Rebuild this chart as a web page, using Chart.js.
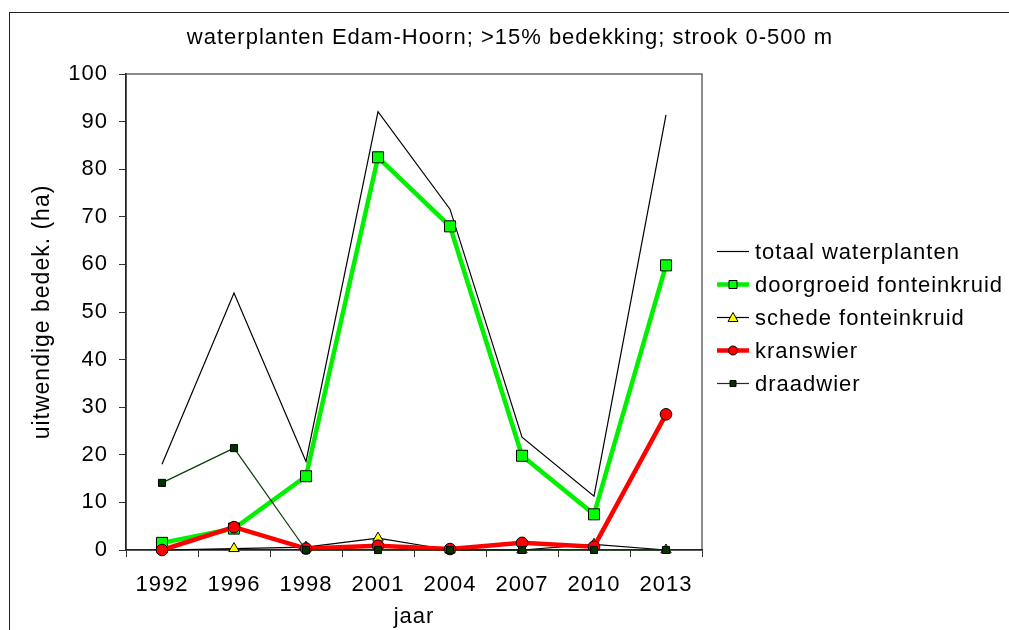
<!DOCTYPE html>
<html>
<head>
<meta charset="utf-8">
<script src="https://cdn.jsdelivr.net/npm/chart.js@4.4.1/dist/chart.umd.min.js"></script>
<style>
  html, body { margin: 0; padding: 0; background: #fff; overflow: hidden; }
  #wrap { width: 1009px; height: 630px; position: relative; }
</style>
</head>
<body>
<div id="wrap"><canvas id="chart" width="1009" height="630"></canvas></div>
<script>
// data
const years = ["1992", "1996", "1998", "2001", "2004", "2007", "2010", "2013"];
const totaal = [18, 54, 18.6, 92.1, 71.6, 23.7, 11.3, 91.4];
const doorgroeid = [1.5, 4.5, 15.5, 82.5, 68, 19.8, 7.5, 59.8];
const schede = [0, 0.3, 0.6, 2.5, 0, 0, 1.2, 0];
const kranswier = [0, 4.8, 0.3, 0.9, 0.2, 1.5, 0.7, 28.5];
const draadwier = [14.1, 21.4, 0, 0, 0, 0, 0, 0];

const chartTitle = "waterplanten Edam-Hoorn; >15% bedekking; strook 0-500 m";
const yTitle = "uitwendige bedek. (ha)";
const xTitle = "jaar";
const yMin = 0, yMax = 100, yStep = 10;

const FONT = "'Liberation Sans', Arial, sans-serif";
const FS = 22;

// marker drawing used for the legend samples
function drawMarker(ctx, style, x, y, r, fill, stroke) {
  ctx.save();
  ctx.fillStyle = fill;
  ctx.strokeStyle = stroke;
  ctx.lineWidth = 1;
  ctx.beginPath();
  if (style === "rect") {
    ctx.rect(x - r, y - r, 2 * r, 2 * r);
  } else if (style === "circle") {
    ctx.arc(x, y, r, 0, Math.PI * 2);
  } else if (style === "triangle") {
    ctx.moveTo(x, y - r);
    ctx.lineTo(x + r, y + r * 0.8);
    ctx.lineTo(x - r, y + r * 0.8);
    ctx.closePath();
  }
  ctx.fill();
  ctx.stroke();
  ctx.restore();
}

const decorPlugin = {
  id: "decor",
  beforeDraw(chart) {
    const ctx = chart.ctx;
    const a = chart.chartArea;
    // the reference text runs a little wide, so space letters out a bit
    ctx.letterSpacing = "1px";
    ctx.save();
    ctx.fillStyle = "#fff";
    ctx.fillRect(0, 0, chart.width, chart.height);
    // outer frame (runs off the right and bottom edge)
    ctx.strokeStyle = "#222";
    ctx.lineWidth = 1;
    ctx.strokeRect(9.5, 12.5, 1200, 800);
    // plot area frame
    ctx.strokeStyle = "#666";
    ctx.lineWidth = 1.5;
    ctx.strokeRect(a.left, a.top, a.right - a.left, a.bottom - a.top);
    // title
    ctx.fillStyle = "#000";
    ctx.font = FS + "px " + FONT;
    ctx.textAlign = "center";
    ctx.textBaseline = "middle";
    ctx.fillText(chartTitle, 510, 38);
    ctx.restore();
  },
  afterDraw(chart) {
    const ctx = chart.ctx;
    const x0 = 717, x1 = 749, tx = 755;
    let y = 251.5;
    ctx.save();
    chart.data.datasets.forEach(ds => {
      ctx.strokeStyle = ds.borderColor;
      ctx.lineWidth = ds.borderWidth;
      ctx.beginPath();
      ctx.moveTo(x0, y);
      ctx.lineTo(x1, y);
      ctx.stroke();
      if (ds.legendMarker) {
        drawMarker(ctx, ds.pointStyle, (x0 + x1) / 2, y, ds.legendMarker, ds.pointBackgroundColor, "#000");
      }
      ctx.fillStyle = "#000";
      ctx.font = FS + "px " + FONT;
      ctx.textAlign = "left";
      ctx.textBaseline = "middle";
      ctx.fillText(ds.label, tx, y + 1);
      y += 33;
    });
    ctx.restore();
  }
};

const ctx = document.getElementById("chart").getContext("2d");
new Chart(ctx, {
  type: "line",
  data: {
    labels: years,
    datasets: [
      {
        label: "totaal waterplanten", data: totaal,
        borderColor: "#000", borderWidth: 1.2, pointRadius: 0,
        order: 5, clip: false
      },
      {
        label: "doorgroeid fonteinkruid", data: doorgroeid,
        borderColor: "#00f000", borderWidth: 4.5,
        pointStyle: "rect", pointRadius: 7.8, pointBackgroundColor: "#00ff00",
        pointBorderColor: "#000", pointBorderWidth: 1, legendMarker: 4,
        order: 4, clip: false
      },
      {
        label: "schede fonteinkruid", data: schede,
        borderColor: "#000", borderWidth: 1.2,
        pointStyle: "triangle", pointRadius: 6, pointBackgroundColor: "#ffff00",
        pointBorderColor: "#000", pointBorderWidth: 1, legendMarker: 5,
        order: 3, clip: false
      },
      {
        label: "kranswier", data: kranswier,
        borderColor: "#ff0000", borderWidth: 4.5,
        pointStyle: "circle", pointRadius: 5.8, pointBackgroundColor: "#ff0000",
        pointBorderColor: "#000", pointBorderWidth: 1, legendMarker: 4.5,
        order: 2, clip: false
      },
      {
        label: "draadwier", data: draadwier,
        borderColor: "#0a3d0a", borderWidth: 1.2,
        pointStyle: "rect", pointRadius: 5, pointBackgroundColor: "#003300",
        pointBorderColor: "#000", pointBorderWidth: 1, legendMarker: 3,
        order: 1, clip: false
      }
    ]
  },
  options: {
    responsive: false,
    animation: false,
    events: [],
    layout: { padding: { left: 0, top: 74, right: 307, bottom: 0 } },
    plugins: {
      legend: { display: false },
      title: { display: false },
      tooltip: { enabled: false }
    },
    elements: { line: { tension: 0 } },
    scales: {
      x: {
        type: "category",
        offset: true,
        afterFit: s => { s.height = 80; },
        grid: { offset: true, drawOnChartArea: false, drawTicks: true, tickLength: 7, color: "#333", lineWidth: 1 },
        border: { display: true, color: "#222", width: 1.5 },
        ticks: { color: "#000", font: { family: FONT, size: FS }, padding: 15, maxRotation: 0 },
        title: { display: true, text: xTitle, color: "#000", font: { family: FONT, size: FS }, padding: { top: 0, bottom: 0 } }
      },
      y: {
        min: yMin, max: yMax,
        afterFit: s => { s.width = 126; },
        grid: { drawOnChartArea: false, drawTicks: true, tickLength: 7, color: "#333", lineWidth: 1 },
        border: { display: true, color: "#222", width: 1.5 },
        ticks: { stepSize: yStep, color: "#000", font: { family: FONT, size: FS }, padding: 11 },
        title: { display: true, text: yTitle, color: "#000", font: { family: FONT, size: 23 }, padding: { top: 29, bottom: 0 } }
      }
    }
  },
  plugins: [decorPlugin]
});
</script>
</body>
</html>
